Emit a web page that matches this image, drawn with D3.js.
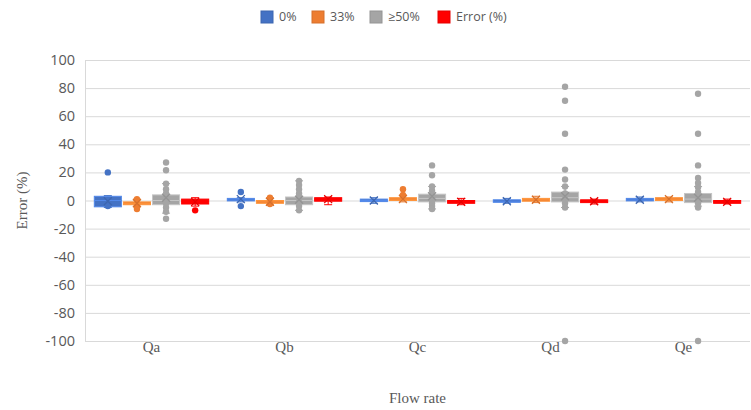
<!DOCTYPE html>
<html>
<head>
<meta charset="utf-8">
<script src="https://cdn.jsdelivr.net/npm/d3@7"></script>
<style>
  body { margin: 0; background: #fff; }
  svg { display: block; }
  .grid line { stroke: #d9d9d9; stroke-width: 1; }
  .tick-label { font-family: "Open Sans", "Liberation Sans", sans-serif; font-size: 14.5px; fill: #595959; }
  .cat-label, .axis-title { font-family: "Liberation Serif", "DejaVu Serif", serif; font-size: 15px; fill: #595959; }
  .legend text { font-family: "Open Sans", "Liberation Sans", sans-serif; font-size: 12.5px; fill: #595959; }
</style>
</head>
<body>
<div id="chart"></div>
<script>
const categories = ['Qa', 'Qb', 'Qc', 'Qd', 'Qe'];
const seriesNames = ['0%', '33%', '≥50%', 'Error (%)'];
const seriesColors = ['#4472C4', '#ED7D31', '#A5A5A5', '#FF0000'];
const yTicks = [-100, -80, -60, -40, -20, 0, 20, 40, 60, 80, 100];

// per series (row) and category (column)
const boxQ1 = [
  [-4.5, 0, -0.5, -1, 0],
  [-3, -2, 0, -0.5, 0],
  [-3, -3, -1, -1, -1.5],
  [-2.5, -0.5, -2, -1.5, -2]
];
const boxMedian = [
  [0, 0.5, 0, -0.5, 0.5],
  [-2, -1, 1, 0.5, 1],
  [0, 0, 1.5, 2, 1],
  [-0.5, 1, -1, -0.5, -1]
];
const boxQ3 = [
  [3, 1.5, 1, 0.5, 1.5],
  [-1, 0, 2, 1.5, 2],
  [4, 2.5, 4.5, 6, 5],
  [1, 2, 0, 0.5, 0]
];
const whiskerLow = [
  [-5, -1, -2, -2, -1],
  [-4, -3, -1, -1.5, -1],
  [-9, -7, -6, -5, -4],
  [-4, -3, -3, -2.5, -2.5]
];
const whiskerHigh = [
  [3.5, 2, 2, 1.5, 2.5],
  [1, 2, 4, 3, 2.5],
  [12, 14, 10, 10, 10],
  [2, 2.5, 1.5, 1, 1]
];
const means = [
  [-0.5, 1, 0, -0.5, 0.5],
  [-2, -1, 1, 0.5, 1],
  [2, 0.5, 3, 3, 2],
  [-1, 1, -1, -0.5, -1]
];
const points = [
  [[20, -4], [6, -4], [], [], []],
  [[1, -4.5, -6], [2, -2.5], [8, 4], [], []],
  [[27, 21.5, 12, 8, 5, 2, -2, -5, -8, -13],
   [14, 11, 8, 5, 3, -1, -4, -7],
   [25, 18, 10, 7, 4, 2, 0, -2, -4, -6],
   [81, 71, 47.5, 22, 15, 10, 5, 1, -2, -5, -100],
   [76, 47.5, 25, 16, 12.5, 9.5, 6, 2, -2, -5, -100]],
  [[-7], [], [], [], []]
];

const width = 751, height = 410;
const plot = {left: 85, right: 750, top: 60, bottom: 341};

const svg = d3.select('#chart').append('svg')
  .attr('width', width)
  .attr('height', height);

const y = d3.scaleLinear().domain([-100, 100]).range([plot.bottom, plot.top]);
const x = d3.scaleBand().domain(categories).range([plot.left, plot.right])
  .paddingInner(0.14).paddingOuter(0.07);
const xs = d3.scaleBand().domain(d3.range(seriesNames.length)).range([0, x.bandwidth()])
  .paddingInner(0.07);

// gridlines
svg.append('g').attr('class', 'grid')
  .selectAll('line').data(yTicks).enter().append('line')
  .attr('x1', plot.left).attr('x2', plot.right)
  .attr('y1', d => y(d) + 0.5).attr('y2', d => y(d) + 0.5);

// y axis line
svg.append('line')
  .attr('x1', plot.left + 0.5).attr('x2', plot.left + 0.5)
  .attr('y1', plot.top).attr('y2', plot.bottom + 1)
  .attr('stroke', '#d9d9d9');

svg.append('g').selectAll('text').data(yTicks).enter().append('text')
  .attr('class', 'tick-label')
  .attr('x', 75)
  .attr('y', d => y(d))
  .attr('dy', '0.35em')
  .attr('text-anchor', 'end')
  .text(d => d);

svg.append('g').selectAll('text').data(categories).enter().append('text')
  .attr('class', 'cat-label')
  .attr('x', d => x(d) + x.bandwidth() / 2)
  .attr('y', 352)
  .attr('text-anchor', 'middle')
  .text(d => d);

svg.append('text').attr('class', 'axis-title')
  .attr('x', (plot.left + plot.right) / 2).attr('y', 403)
  .attr('text-anchor', 'middle').text('Flow rate');

svg.append('text').attr('class', 'axis-title')
  .attr('transform', `translate(27,${y(0)}) rotate(-90)`)
  .attr('text-anchor', 'middle').text('Error (%)');

// boxes
const boxes = svg.append('g');
seriesNames.forEach((name, s) => {
  const color = seriesColors[s];
  const light = d3.color(color).brighter(0.5).formatHex();
  const dark = d3.color(color).darker(0.3).formatHex();
  categories.forEach((cat, c) => {
    const x0 = x(cat) + xs(s);
    const w = xs.bandwidth();
    const cx = x0 + w / 2;
    const g = boxes.append('g');
    // whiskers
    [[whiskerHigh[s][c], boxQ3[s][c]], [whiskerLow[s][c], boxQ1[s][c]]].forEach(([a, b]) => {
      g.append('line').attr('x1', cx).attr('x2', cx)
        .attr('y1', y(a)).attr('y2', y(b))
        .attr('stroke', color).attr('stroke-width', 1);
      g.append('line').attr('x1', cx - 4).attr('x2', cx + 4)
        .attr('y1', y(a)).attr('y2', y(a))
        .attr('stroke', color).attr('stroke-width', 1);
    });
    const top = y(boxQ3[s][c]), bot = y(boxQ1[s][c]);
    g.append('rect')
      .attr('x', x0).attr('y', top)
      .attr('width', w).attr('height', Math.max(bot - top, 2.5))
      .attr('fill', color).attr('stroke', light).attr('stroke-width', 1);
    g.append('line').attr('x1', x0).attr('x2', x0 + w)
      .attr('y1', y(boxMedian[s][c])).attr('y2', y(boxMedian[s][c]))
      .attr('stroke', light).attr('stroke-width', 1);
    // points
    g.selectAll('circle').data(points[s][c]).enter().append('circle')
      .attr('cx', cx).attr('cy', d => y(d)).attr('r', 3.2)
      .attr('fill', color);
    // mean marker
    const my = y(means[s][c]);
    g.append('path')
      .attr('d', `M${cx - 4},${my - 4}L${cx + 4},${my + 4}M${cx - 4},${my + 4}L${cx + 4},${my - 4}`)
      .attr('stroke', dark).attr('stroke-width', 1.3);
  });
});

// legend
const legendX = [261, 312, 370, 438];
const legend = svg.append('g').attr('class', 'legend');
seriesNames.forEach((name, s) => {
  legend.append('rect')
    .attr('x', legendX[s]).attr('y', 11)
    .attr('width', 12).attr('height', 12)
    .attr('fill', seriesColors[s])
    .attr('stroke', d3.color(seriesColors[s]).darker(0.3).formatHex());
  legend.append('text')
    .attr('x', legendX[s] + 18).attr('y', 17)
    .attr('dy', '0.35em')
    .text(name);
});
</script>
</body>
</html>
